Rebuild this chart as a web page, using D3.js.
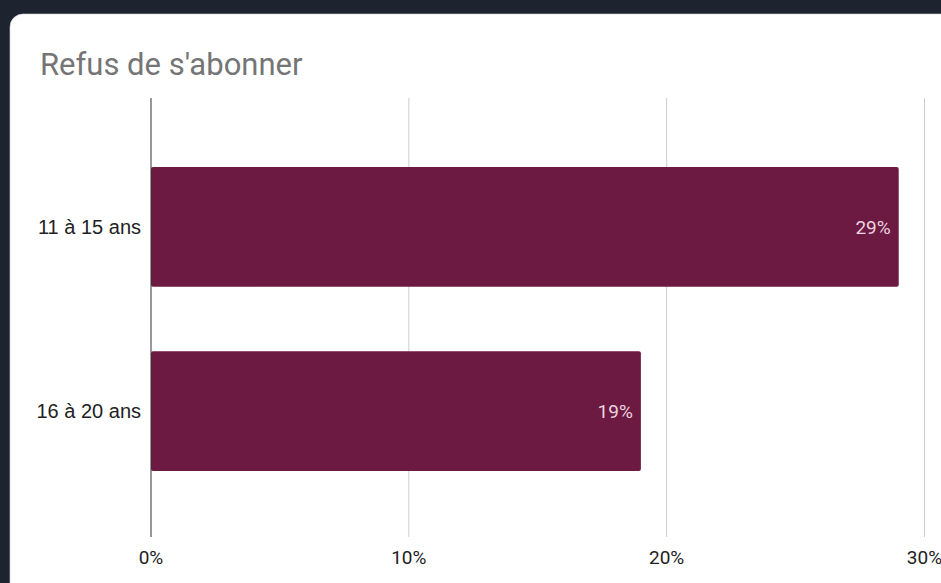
<!DOCTYPE html>
<html>
<head>
<meta charset="utf-8">
<script src="https://cdn.jsdelivr.net/npm/d3@7"></script>
<style>
  html, body { margin: 0; padding: 0; background: #1e2330; }
  svg { display: block; }
</style>
</head>
<body>
<script>
const categories = ["11 à 15 ans", "16 à 20 ans"];
const values = [29, 19];
const tickValues = [0, 10, 20, 30];
const title = "Refus de s'abonner";

const W = 941, H = 583;
const svg = d3.select("body").append("svg").attr("width", W).attr("height", H);

// card
svg.append("rect")
  .attr("x", 10).attr("y", 14)
  .attr("width", W + 20).attr("height", H + 20)
  .attr("rx", 13).attr("ry", 13)
  .attr("fill", "#ffffff")
  .attr("stroke", "#d0d3d8").attr("stroke-width", 0.6);

svg.append("text")
  .attr("x", 40).attr("y", 75)
  .attr("font-family", "Roboto, sans-serif")
  .attr("font-size", 31)
  .attr("fill", "#757575")
  .text(title);

const x = d3.scaleLinear().domain([0, 30]).range([151, 924.5]);
const y = d3.scaleBand().domain(categories).range([99, 539]).paddingInner(0.35).paddingOuter(0.37);

const gridTop = 98, gridBottom = 537;

// gridlines
svg.append("g").selectAll("line")
  .data(tickValues.filter(d => d !== 0))
  .join("line")
  .attr("x1", d => x(d)).attr("x2", d => x(d))
  .attr("y1", gridTop).attr("y2", gridBottom)
  .attr("stroke", "#cccccc").attr("stroke-width", 1);

// bars
svg.append("g").selectAll("rect")
  .data(values)
  .join("rect")
  .attr("x", x(0))
  .attr("y", (d, i) => y(categories[i]))
  .attr("width", d => x(d) - x(0))
  .attr("height", y.bandwidth())
  .attr("rx", 2)
  .attr("fill", "#6c1a42");

// baseline axis
svg.append("line")
  .attr("x1", x(0)).attr("x2", x(0))
  .attr("y1", gridTop).attr("y2", gridBottom)
  .attr("stroke", "#333333").attr("stroke-width", 1);

// value labels
svg.append("g").selectAll("text")
  .data(values)
  .join("text")
  .attr("x", d => x(d) - 8)
  .attr("y", (d, i) => y(categories[i]) + y.bandwidth() / 2)
  .attr("dy", "0.35em")
  .attr("text-anchor", "end")
  .attr("font-family", "Roboto, sans-serif")
  .attr("font-size", 19)
  .attr("fill", "#ecd3df")
  .text(d => d + "%");

// category labels
svg.append("g").selectAll("text")
  .data(categories)
  .join("text")
  .attr("x", 141)
  .attr("y", d => y(d) + y.bandwidth() / 2)
  .attr("dy", "0.35em")
  .attr("text-anchor", "end")
  .attr("font-family", "'Liberation Sans', Arial, sans-serif")
  .attr("font-size", 20)
  .attr("fill", "#222222")
  .text(d => d);

// x tick labels
svg.append("g").selectAll("text")
  .data(tickValues)
  .join("text")
  .attr("x", d => x(d))
  .attr("y", 557)
  .attr("dy", "0.35em")
  .attr("text-anchor", "middle")
  .attr("font-family", "Roboto, sans-serif")
  .attr("font-size", 19)
  .attr("fill", "#222222")
  .text(d => d + "%");
</script>
</body>
</html>
